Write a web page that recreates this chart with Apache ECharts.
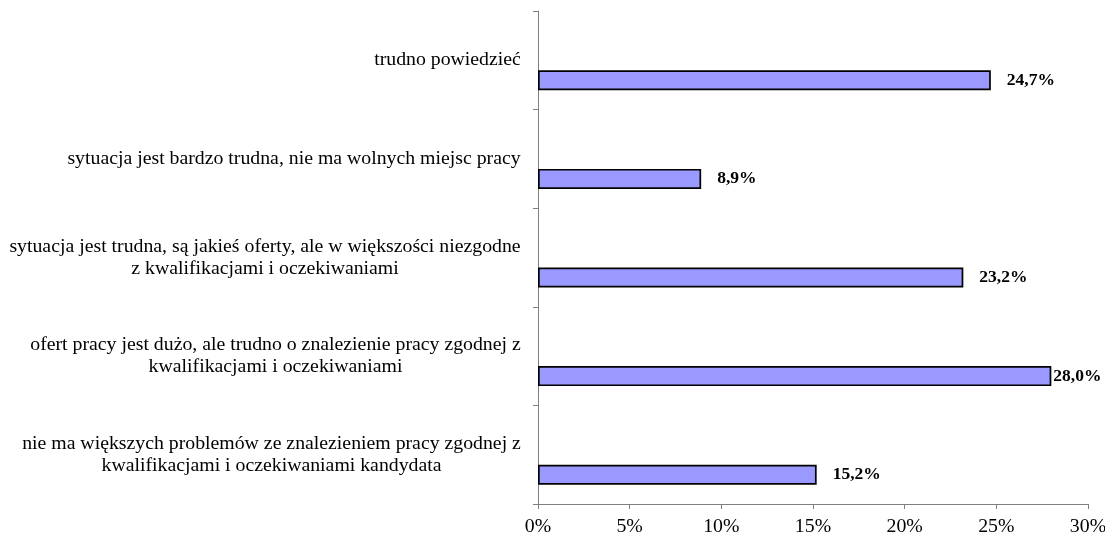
<!DOCTYPE html>
<html>
<head>
<meta charset="utf-8">
<script src="https://cdn.jsdelivr.net/npm/echarts@6/dist/echarts.min.js"></script>
<style>
  html, body { margin: 0; padding: 0; background: #fff; }
  #chart { width: 1105px; height: 536px; }
</style>
</head>
<body>
<div id="chart"></div>
<script>
// Answer categories (top to bottom) and their shares in percent
const categories = [
  'trudno powiedzieć',
  'sytuacja jest bardzo trudna, nie ma wolnych miejsc pracy',
  'sytuacja jest trudna, są jakieś oferty, ale w większości niezgodne\nz kwalifikacjami i oczekiwaniami',
  'ofert pracy jest dużo, ale trudno o znalezienie pracy zgodnej z\nkwalifikacjami i oczekiwaniami',
  'nie ma większych problemów ze znalezieniem pracy zgodnej z\nkwalifikacjami i oczekiwaniami kandydata'
];
const shares = [24.7, 8.9, 23.2, 28.0, 15.2];
const xTicks = { min: 0, max: 30, step: 5 };

const FONT = '"Liberation Serif", "Times New Roman", serif';
const CAT_SIZE = 19.8;
const VAL_SIZE = 17.5;

// Measure each label so that its lines can be centred inside a right-aligned block
const ctx = document.createElement('canvas').getContext('2d');
ctx.font = CAT_SIZE + 'px ' + FONT;
const rich = {};
categories.forEach((c, i) => {
  const w = Math.max(...c.split('\n').map(l => ctx.measureText(l).width));
  rich['c' + i] = {
    width: Math.ceil(w),
    align: 'center',
    fontFamily: FONT,
    fontSize: CAT_SIZE,
    lineHeight: 22,
    color: '#000'
  };
});

const fmtPct = v => v.toFixed(1).replace('.', ',') + '%';

const chart = echarts.init(document.getElementById('chart'), null, { renderer: 'canvas' });
chart.setOption({
  animation: false,
  backgroundColor: '#fff',
  grid: {
    left: 538, right: 17, top: 11, bottom: 32,
    containLabel: false,
    outerBoundsMode: 'none'
  },
  xAxis: {
    type: 'value',
    min: xTicks.min,
    max: xTicks.max,
    interval: xTicks.step,
    splitLine: { show: false },
    axisLine: { show: true, lineStyle: { color: '#808080', width: 1 } },
    axisTick: { show: true, length: 5, lineStyle: { color: '#808080' } },
    axisLabel: {
      formatter: '{value}%',
      fontFamily: FONT,
      fontSize: CAT_SIZE,
      color: '#000',
      margin: 13
    }
  },
  yAxis: {
    type: 'category',
    inverse: true,
    data: categories,
    axisLine: { show: true, lineStyle: { color: '#808080', width: 1 } },
    axisTick: { show: true, length: 5, lineStyle: { color: '#808080' } },
    axisLabel: {
      margin: 17,
      align: 'right',
      formatter: (value, index) =>
        value.split('\n').map(l => '{c' + index + '|' + l + '}').join('\n'),
      rich: rich
    }
  },
  series: [
    {
      // empty slot that pushes the visible bar below the category label
      type: 'bar',
      data: categories.map(() => '-'),
      barWidth: 20,
      barGap: '100%',
      silent: true,
      itemStyle: { color: 'transparent' }
    },
    {
      type: 'bar',
      data: shares.map(v => ({
        value: v,
        label: { distance: v >= 27 ? 2 : 16 }
      })),
      barWidth: 20,
      barGap: '100%',
      itemStyle: { color: '#9999FF', borderColor: '#000', borderWidth: 1.7 },
      label: {
        show: true,
        position: 'right',
        formatter: p => fmtPct(p.value),
        fontFamily: FONT,
        fontSize: VAL_SIZE,
        fontWeight: 'bold',
        color: '#000'
      }
    }
  ]
});
</script>
</body>
</html>
